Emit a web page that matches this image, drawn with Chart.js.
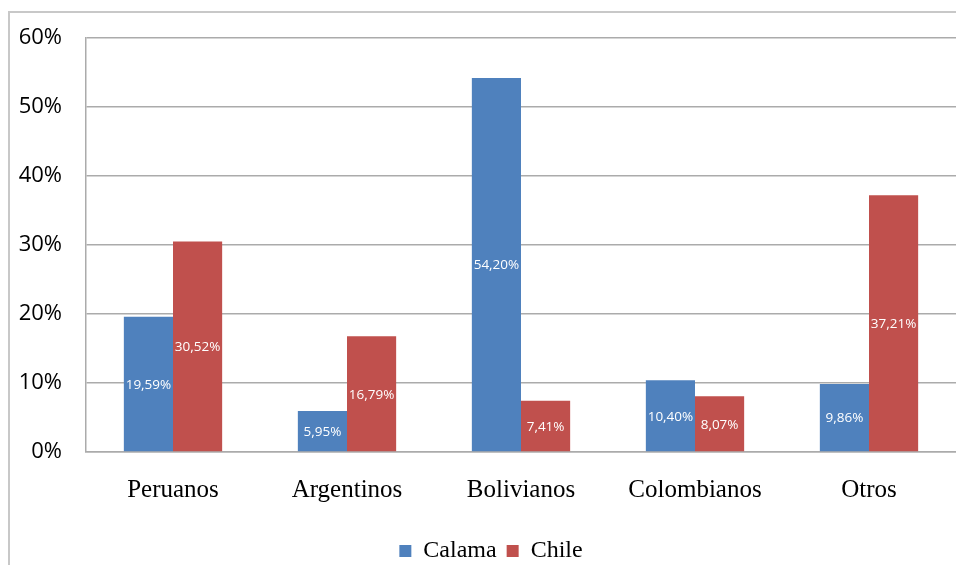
<!DOCTYPE html>
<html>
<head>
<meta charset="utf-8">
<script src="https://cdn.jsdelivr.net/npm/chart.js@4"></script>
<style>
html, body { margin: 0; padding: 0; background: #fff; }
#wrap { position: relative; width: 956px; height: 565px; overflow: hidden; }
#frame { position: absolute; left: 8px; top: 11px; width: 980px; height: 600px; border-left: 2px solid #c8c8c8; border-top: 2px solid #c8c8c8; }
#chartCanvas { position: absolute; left: 0; top: 0; }
</style>
</head>
<body>
<div id="wrap">
  <div id="frame"></div>
  <canvas id="chartCanvas" width="956" height="573"></canvas>
</div>
<script>
const categories = ['Peruanos', 'Argentinos', 'Bolivianos', 'Colombianos', 'Otros'];
const calama = [19.59, 5.95, 54.20, 10.40, 9.86];
const chile = [30.52, 16.79, 7.41, 8.07, 37.21];
const yMin = 0, yMax = 60, yStep = 10;

const gridColor = '#ababab';

// white value labels in the middle of every bar
const barLabels = {
    id: 'barLabels',
    afterDatasetsDraw(chart) {
        const c = chart.ctx;
        c.save();
        c.font = '13.5px "Open Sans"';
        c.fillStyle = '#ffffff';
        c.textAlign = 'center';
        c.textBaseline = 'middle';
        chart.data.datasets.forEach((ds, i) => {
            chart.getDatasetMeta(i).data.forEach((bar, j) => {
                const txt = ds.data[j].toFixed(2).replace('.', ',') + '%';
                c.fillText(txt, bar.x, (bar.y + bar.base) / 2 + 1);
            });
        });
        c.restore();
    }
};

// legend is centred on the plot area, not the whole canvas
const legendShift = {
    id: 'legendShift',
    afterLayout(chart) {
        chart.legend.left += 26;
    }
};

const ctx = document.getElementById('chartCanvas').getContext('2d');
let chart = new Chart(ctx, {
    type: 'bar',
    data: {
        labels: categories,
        datasets: [{
            label: 'Calama',
            data: calama,
            backgroundColor: '#4f81bd',
            borderWidth: 0
        }, {
            label: 'Chile',
            data: chile,
            backgroundColor: '#c0504d',
            borderWidth: 0
        }]
    },
    options: {
        responsive: false,
        animation: false,
        layout: { padding: { top: 38, left: 0, right: 0, bottom: 0 } },
        datasets: {
            bar: { categoryPercentage: 0.565, barPercentage: 1 }
        },
        plugins: {
            legend: {
                position: 'bottom',
                labels: {
                    boxWidth: 12,
                    boxHeight: 12,
                    padding: 10,
                    color: '#000',
                    font: { family: '"Liberation Serif"', size: 24, lineHeight: 1 }
                }
            },
            tooltip: { enabled: false }
        },
        scales: {
            x: {
                grid: { display: false, drawTicks: false },
                border: { color: gridColor, width: 1.5 },
                ticks: {
                    color: '#000',
                    padding: 23,
                    font: { family: '"Liberation Serif"', size: 25 }
                },
                afterFit(scale) { scale.height = 77; }
            },
            y: {
                min: yMin,
                max: yMax,
                grid: { color: gridColor, lineWidth: 1.5, drawTicks: false },
                border: { color: gridColor, width: 1.5 },
                ticks: {
                    stepSize: yStep,
                    color: '#000',
                    padding: 24,
                    font: { family: '"Open Sans"', size: 22 },
                    callback: v => v + '%'
                },
                afterFit(scale) { scale.width = 86; }
            }
        }
    },
    plugins: [barLabels, legendShift]
});
</script>
</body>
</html>
